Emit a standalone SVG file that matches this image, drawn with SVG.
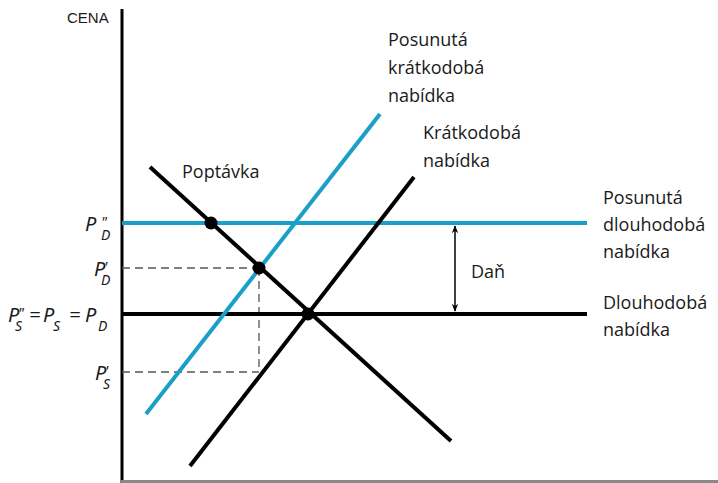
<svg xmlns="http://www.w3.org/2000/svg" width="718" height="483" viewBox="0 0 718 483">
<style>
.lbl{font-family:"Open Sans","Noto Sans",sans-serif;font-size:18px;fill:#1a1a1a}
.m{font-family:"Noto Sans","Open Sans",sans-serif;font-style:italic;font-size:20px;fill:#1a1a1a}
.sub{font-size:14px}
.pr{font-size:15px}
.blk{stroke:#000;stroke-width:4;fill:none}
.blu{stroke:#1a9fc9;stroke-width:4;fill:none}
.dash{stroke:#555;stroke-width:1.3;stroke-dasharray:8,5;fill:none}
</style>
<defs>
<marker id="ah" viewBox="0 0 10 10" refX="9" refY="5" markerWidth="8" markerHeight="10" markerUnits="userSpaceOnUse" orient="auto-start-reverse">
<path d="M0,1 L10,5 L0,9 L3,5 Z" fill="#000"/>
</marker>
</defs>
<rect width="718" height="483" fill="#fff"/>
<g id="axes">
<line x1="122" y1="9" x2="122" y2="483" stroke="#000" stroke-width="3"/>
<line x1="121" y1="481.5" x2="718" y2="481.5" stroke="#888" stroke-width="3"/>
<text x="67" y="23" font-family="Liberation Sans,Arial,sans-serif" font-size="15" fill="#1a1a1a">CENA</text>
</g>
<g id="connectors">
<line class="dash" x1="122" y1="268" x2="259" y2="268"/>
<line class="dash" x1="259" y1="268" x2="259" y2="372"/>
<line class="dash" x1="122" y1="372" x2="259" y2="372"/>
<line x1="455" y1="226" x2="455" y2="311" stroke="#000" stroke-width="1.5" marker-start="url(#ah)" marker-end="url(#ah)"/>
</g>
<g id="long-run-supply">
<line class="blk" x1="122" y1="314" x2="587" y2="314"/>
<text class="lbl" x="603" y="309">Dlouhodobá</text>
<text class="lbl" x="603" y="336">nabídka</text>
</g>
<g id="shifted-long-run-supply">
<line class="blu" x1="122" y1="223" x2="587" y2="223"/>
<text class="lbl" x="603" y="204">Posunutá</text>
<text class="lbl" x="603" y="231">dlouhodobá</text>
<text class="lbl" x="603" y="258">nabídka</text>
</g>
<g id="short-run-supply">
<line class="blk" x1="190" y1="466" x2="414" y2="177"/>
<text class="lbl" x="423" y="139">Krátkodobá</text>
<text class="lbl" x="423" y="167">nabídka</text>
</g>
<g id="shifted-short-run-supply">
<line class="blu" x1="146" y1="414" x2="380" y2="114"/>
<text class="lbl" x="388" y="46">Posunutá</text>
<text class="lbl" x="388" y="74">krátkodobá</text>
<text class="lbl" x="388" y="102">nabídka</text>
</g>
<g id="demand">
<line class="blk" x1="150" y1="167" x2="451" y2="441"/>
<text class="lbl" x="182" y="178">Poptávka</text>
</g>
<g id="tax">
<text class="lbl" x="471" y="278">Daň</text>
</g>
<g id="points">
<circle cx="211" cy="223" r="6.5" fill="#000"/>
<circle cx="259" cy="268" r="6.5" fill="#000"/>
<circle cx="308" cy="314" r="6.5" fill="#000"/>
</g>
<g id="price-labels">
<text class="m" x="85" y="231">P<tspan class="pr" x="101" y="227">"</tspan><tspan class="sub" x="101" y="240">D</tspan></text>
<text class="m" x="94" y="276">P<tspan class="pr" x="104" y="272">'</tspan><tspan class="sub" x="101" y="285">D</tspan></text>
<text class="m" x="8" y="322">P<tspan class="pr" x="18" y="318">"</tspan><tspan class="sub" x="15" y="331">S</tspan><tspan x="29" y="322">=</tspan><tspan x="43" y="322">P</tspan><tspan class="sub" x="53" y="331">S</tspan><tspan x="69" y="322">=</tspan><tspan x="85" y="322">P</tspan><tspan class="sub" x="98" y="331">D</tspan></text>
<text class="m" x="95" y="380">P<tspan class="pr" x="105" y="376">'</tspan><tspan class="sub" x="103" y="389">S</tspan></text>
</g>
</svg>
